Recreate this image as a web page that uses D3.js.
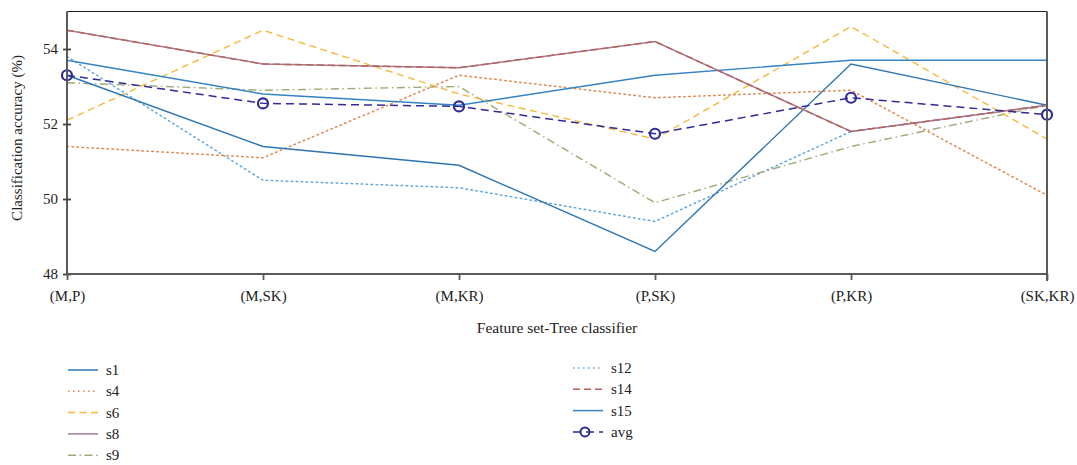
<!DOCTYPE html>
<html><head><meta charset="utf-8">
<script src="https://cdn.jsdelivr.net/npm/d3@7"></script>
<style>body{margin:0;background:#fff}svg{display:block}text{font-family:"Liberation Serif","DejaVu Serif",serif;fill:#222}</style>
</head><body><svg id="c" width="1077" height="465"></svg>
<script>
const categories = ["(M,P)","(M,SK)","(M,KR)","(P,SK)","(P,KR)","(SK,KR)"];
const s1  = [53.3, 51.4, 50.9, 48.6, 53.6, 52.5];
const s4  = [51.4, 51.1, 53.3, 52.7, 52.9, 50.1];
const s6  = [52.1, 54.5, 52.8, 51.6, 54.6, 51.6];
const s8  = [54.5, 53.6, 53.5, 54.2, 51.8, 52.5];
const s9  = [53.1, 52.9, 53.0, 49.9, 51.4, 52.5];
const s12 = [53.8, 50.5, 50.3, 49.4, 51.8, 52.5];
const s14 = [54.5, 53.6, 53.5, 54.2, 51.8, 52.5];
const s15 = [53.7, 52.8, 52.5, 53.3, 53.7, 53.7];
const avg = [53.3, 52.55, 52.47, 51.74, 52.7, 52.25];
const yTicks = [48, 50, 52, 54];
const seriesNames = ["s1","s4","s6","s8","s9","s12","s14","s15","avg"];

const styles = {
  s1:  {c:"#2e76b2", d:null, w:1.4},
  s4:  {c:"#e3874f", d:"1.5,3.5", w:1.5},
  s6:  {c:"#f4b93e", d:"7,4.5", w:1.4},
  s8:  {c:"#a47a95", d:null, w:1.5},
  s9:  {c:"#a2a976", d:"8,3.5,1.5,3.5", w:1.4},
  s12: {c:"#5ea6df", d:"1.5,3.5", w:1.5},
  s14: {c:"#b8635a", d:"7,4", w:1.5},
  s15: {c:"#3583c2", d:null, w:1.4},
  avg: {c:"#302b97", d:"8,5", w:1.5}
};
const data = {s1,s4,s6,s8,s9,s12,s14,s15,avg};
const drawOrder = ["s12","s9","s4","s6","s15","s1","s8","s14","avg"];

const svg = d3.select("#c");
const L=67, R=1047, T=11.5, B=274;
const x = d3.scalePoint().domain(categories).range([L,R]);
const y = d3.scaleLinear().domain([48,55]).range([B,T]);

const line = d3.line().x((d,i)=>x(categories[i])).y(d=>y(d));
drawOrder.forEach(n=>{
  const st=styles[n];
  svg.append("path").datum(data[n]).attr("d",line).attr("fill","none")
    .attr("stroke",st.c).attr("stroke-width",st.w)
    .attr("stroke-dasharray",st.d).attr("stroke-linecap", st.d&&st.d.startsWith("1.5")?"round":"butt");
});
svg.selectAll("circle.avg").data(avg).enter().append("circle")
  .attr("cx",(d,i)=>x(categories[i])).attr("cy",d=>y(d)).attr("r",5)
  .attr("fill","none").attr("stroke",styles.avg.c).attr("stroke-width",2.2);

svg.append("line").attr("x1",L).attr("x2",R).attr("y1",T).attr("y2",T).attr("stroke","#222").attr("stroke-width",1.2);
svg.append("line").attr("x1",R).attr("x2",R).attr("y1",T).attr("y2",B+7).attr("stroke","#5a5a5a").attr("stroke-width",2);

const yAxis = svg.append("g").attr("transform",`translate(${L},0)`)
  .call(d3.axisLeft(y).tickValues(yTicks).tickSize(4).tickFormat(d3.format("d")));
yAxis.select(".domain").attr("stroke","#5a5a5a").attr("stroke-width",2).attr("d",`M0,${T}V${B}`);
yAxis.selectAll(".tick line").attr("x1",4).attr("x2",-4).attr("stroke","#444").attr("stroke-width",1.8);
yAxis.selectAll(".tick text").attr("x",-9).style("font-size","15px").style("font-family","Liberation Serif").attr("fill","#222");

const xAxis = svg.append("g").attr("transform",`translate(0,${B})`)
  .call(d3.axisBottom(x).tickSize(6).tickPadding(10));
xAxis.select(".domain").attr("stroke","#5a5a5a").attr("stroke-width",2).attr("d",`M${L},0H${R}`);
xAxis.selectAll(".tick line").attr("stroke","#5a5a5a").attr("stroke-width",1.8);
xAxis.selectAll(".tick text").style("font-size","15px").style("font-family","Liberation Serif").attr("fill","#222");

svg.append("text").attr("transform","translate(22,138) rotate(-90)").attr("text-anchor","middle")
  .style("font-size","15px").text("Classification accuracy (%)");
svg.append("text").attr("x",(L+R)/2).attr("y",333).attr("text-anchor","middle")
  .style("font-size","15.5px").text("Feature set-Tree classifier");

const legLeft = ["s1","s4","s6","s8","s9"], legRight = ["s12","s14","s15","avg"];
function legend(names,x0,y0){
  names.forEach((n,i)=>{
    const st=styles[n], yy=y0+i*21.3;
    svg.append("line").attr("x1",x0).attr("x2",x0+30).attr("y1",yy).attr("y2",yy)
      .attr("stroke",st.c).attr("stroke-width",1.5).attr("stroke-dasharray",st.d);
    if(n==="avg") svg.append("circle").attr("cx",x0+12).attr("cy",yy).attr("r",4.5).attr("fill","none").attr("stroke",st.c).attr("stroke-width",2);
    svg.append("text").attr("x",x0+38).attr("y",yy+5).style("font-size","15px").text(n);
  });
}
legend(legLeft,68,370);
legend(legRight,573,368);
</script></body></html>
